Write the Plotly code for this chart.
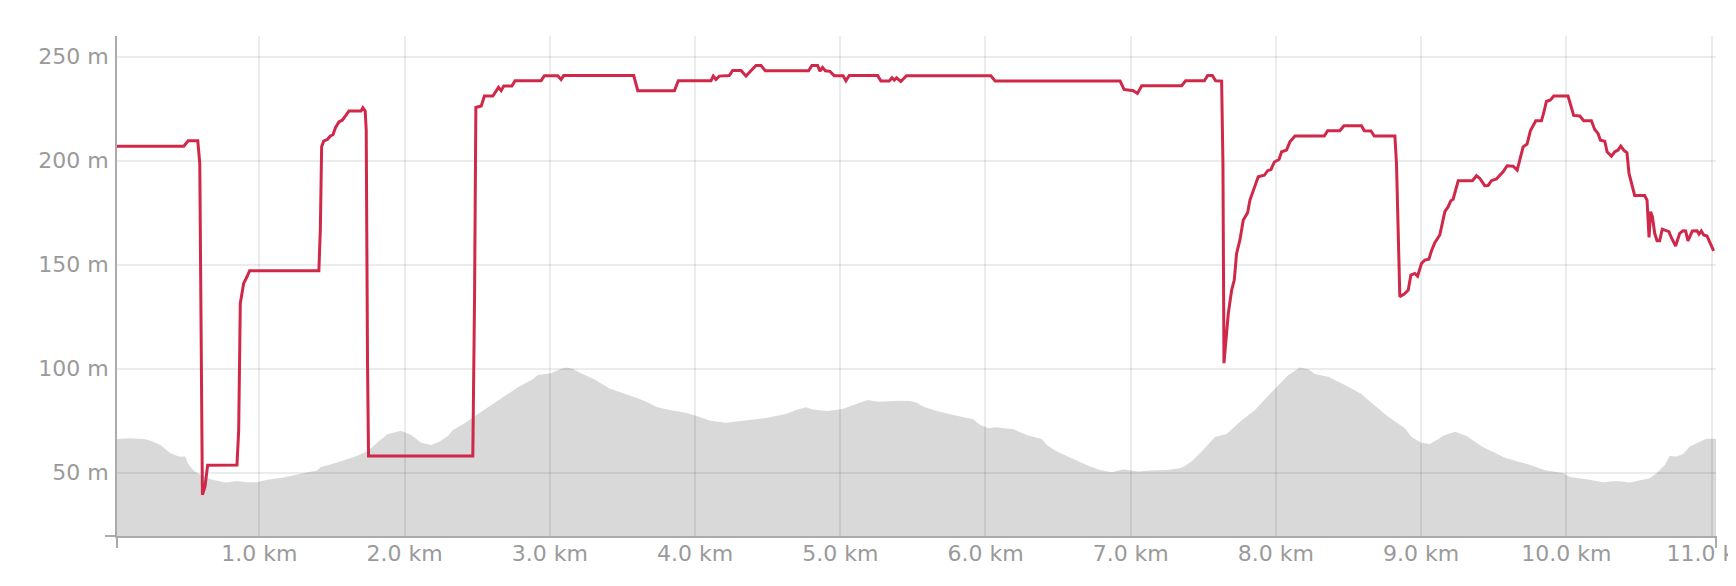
from plotly import graph_objects as go

# red track altitude (m) over distance (km)
track_km = [
    0.02, 0.48, 0.51, 0.576, 0.59, 0.608, 0.626, 0.644, 0.846, 0.858, 0.869, 0.881, 0.892, 0.915, 0.933,
    1.41, 1.42, 1.429, 1.443, 1.47, 1.489, 1.507, 1.525, 1.548, 1.571, 1.592, 1.617, 1.70, 1.713, 1.729,
    1.736, 1.745, 1.752, 2.47, 2.482, 2.491, 2.528, 2.55, 2.608, 2.647, 2.665, 2.683, 2.739, 2.761, 2.94,
    2.963, 3.055, 3.078, 3.096, 3.578, 3.606, 3.858, 3.885, 4.11, 4.126, 4.144, 4.167, 4.236, 4.259, 4.317,
    4.351, 4.385, 4.42, 4.454, 4.484, 4.782, 4.805, 4.844, 4.86, 4.878, 4.897, 4.929, 4.959, 5.02, 5.039,
    5.062, 5.257, 5.28, 5.337, 5.356, 5.372, 5.388, 5.417, 5.456, 6.037, 6.067, 6.927, 6.954, 7.018, 7.046,
    7.076, 7.351, 7.378, 7.507, 7.53, 7.562, 7.585, 7.626, 7.635, 7.642, 7.656, 7.672, 7.695, 7.713, 7.729,
    7.752, 7.775, 7.805, 7.821, 7.844, 7.878, 7.92, 7.943, 7.966, 7.989, 8.021, 8.039, 8.073, 8.096, 8.131,
    8.333, 8.356, 8.44, 8.468, 8.589, 8.608, 8.654, 8.677, 8.819, 8.83, 8.842, 8.853, 8.883, 8.911, 8.929,
    8.956, 8.975, 9.002, 9.025, 9.053, 9.071, 9.094, 9.128, 9.144, 9.163, 9.186, 9.204, 9.22, 9.255, 9.353,
    9.381, 9.404, 9.438, 9.461, 9.484, 9.518, 9.564, 9.592, 9.633, 9.661, 9.679, 9.702, 9.729, 9.752, 9.789,
    9.828, 9.844, 9.862, 9.89, 9.913, 10.011, 10.028, 10.05, 10.092, 10.119, 10.172, 10.195, 10.218, 10.234,
    10.264, 10.28, 10.31, 10.333, 10.356, 10.374, 10.395, 10.417, 10.431, 10.447, 10.47, 10.539, 10.555,
    10.569, 10.58, 10.592, 10.608, 10.624, 10.642, 10.66, 10.683, 10.706, 10.722, 10.752, 10.78, 10.803,
    10.821, 10.837, 10.867, 10.899, 10.913, 10.929, 10.945, 10.968, 10.986, 11.014,
]
track_alt = [
    207, 207, 209.6, 209.6, 198.7, 39.3, 43.3, 53.5, 53.7, 70.5, 131.4, 136.2, 141, 144.2, 147.1,
    147.1, 166.7, 206.7, 209.4, 210.3, 211.9, 212.5, 216, 218.7, 219.5, 221.5, 223.9, 223.9, 225.5, 223.9,
    214.7, 102.6, 58, 58, 134.6, 225.6, 226.3, 231.1, 231.1, 235.3, 233.7, 235.9, 235.9, 238.5, 238.5,
    240.9, 240.9, 239.1, 241, 241, 233.7, 233.7, 238.5, 238.5, 240.7, 239.1, 240.7, 241, 243.4, 243.4,
    240.7, 243.3, 245.8, 245.8, 243.3, 243.3, 245.8, 245.8, 243.1, 244.9, 243.3, 243, 240.9, 240.9, 238.5,
    241, 241, 238.3, 238.3, 239.9, 238.8, 239.9, 238.1, 240.9, 240.9, 238.3, 238.3, 234.3, 233.7, 232.4,
    236.1, 236.1, 238.5, 238.5, 241, 241, 238.5, 238.3, 198.7, 102.6, 115.4, 126.6, 137.8, 142.6, 155.4,
    161.9, 171.5, 175, 181.1, 185.6, 192.3, 193, 195.2, 195.8, 199.4, 200.6, 204.3, 205.1, 209.1, 211.9,
    211.9, 214.4, 214.4, 216.8, 216.8, 214.4, 214.3, 211.9, 211.9, 198.7, 158.7, 134.6, 135.9, 137.8, 145,
    145.8, 144.5, 150.6, 152.2, 152.6, 156.7, 160.6, 164.3, 169.1, 175.5, 177.9, 180.8, 181.5, 190.4, 190.4,
    192.8, 191.5, 188, 188.1, 190.4, 191.2, 194.7, 197.6, 197.4, 195.5, 201.1, 206.7, 208, 214.4, 219.2,
    219.2, 223.1, 228.5, 229.2, 231.1, 231.1, 226.8, 221.8, 221.5, 219.2, 219.2, 215, 213.1, 209.9,
    209.4, 204.3, 202.2, 204.3, 205.1, 207, 205.1, 203.8, 193.9, 189.9, 183.3, 183.3, 181.1,
    163.1, 175.5, 173.1, 165.1, 161.5, 161.5, 167.1, 166.3, 165.9, 163.1, 159, 165.1, 166.3,
    166.2, 161.5, 166.2, 166.3, 164.7, 166.2, 164.3, 163.8, 161, 156.7,
]

# grey terrain profile (m) over distance (km)
terrain_km = [
    0.0, 0.112, 0.204, 0.25, 0.319, 0.388, 0.445, 0.491, 0.507, 0.548, 0.594, 0.663, 0.766, 0.846, 0.915,
    0.984, 1.053, 1.167, 1.282, 1.397, 1.42, 1.534, 1.672, 1.752, 1.82, 1.885, 1.977, 2.046, 2.115, 2.183,
    2.241, 2.298, 2.333, 2.413, 2.505, 2.596, 2.677, 2.78, 2.883, 2.917, 3.009, 3.067, 3.112, 3.158, 3.204,
    3.307, 3.411, 3.514, 3.606, 3.68, 3.732, 3.823, 3.938, 4.007, 4.099, 4.213, 4.351, 4.489, 4.626, 4.695,
    4.764, 4.81, 4.913, 5.016, 5.108, 5.188, 5.268, 5.406, 5.475, 5.52, 5.573, 5.665, 5.78, 5.917, 5.963,
    6.021, 6.067, 6.193, 6.284, 6.388, 6.422, 6.491, 6.594, 6.697, 6.789, 6.869, 6.95, 7.053, 7.133, 7.248,
    7.339, 7.37, 7.42, 7.489, 7.58, 7.661, 7.752, 7.856, 7.924, 8.005, 8.085, 8.165, 8.222, 8.268, 8.36,
    8.475, 8.589, 8.635, 8.773, 8.888, 8.933, 9.002, 9.06, 9.163, 9.235, 9.312, 9.427, 9.553, 9.587, 9.725,
    9.862, 9.977, 10.023, 10.138, 10.252, 10.344, 10.436, 10.573, 10.619, 10.677, 10.711, 10.757, 10.803,
    10.849, 10.917, 10.963, 11.03,
]
terrain_alt = [
    66.1, 66.5, 66.2, 65.4, 63.3, 59.3, 57.7, 57.7, 54.5, 51, 48.9, 46.8, 45.2, 46, 45.4,
    45.4, 46.5, 47.6, 49.4, 51, 52.6, 54.8, 58, 60.6, 65, 68.6, 70.1, 68.1, 64.4, 63.3,
    64.9, 67.6, 70.5, 73.7, 78.2, 82.5, 86.5, 91, 94.9, 97, 97.8, 99.7, 100.5, 99.9, 98.1,
    94.9, 90.5, 88.1, 85.7, 83.6, 81.7, 80.1, 78.8, 77.4, 75, 74, 75, 76.3, 78.2, 80.1,
    81.4, 80.4, 79.6, 80.6, 83, 84.9, 84.1, 84.6, 84.4, 83.8, 81.7, 79.6, 77.7, 75.6, 72.9,
    71.3, 71.8, 70.8, 68.1, 66.1, 63.3, 60.1, 56.9, 53.7, 51.3, 50.2, 51.6, 50.5, 51, 51.3,
    52.1, 53.1, 55.4, 60.1, 67.1, 68.6, 74.5, 80.1, 85.3, 91.3, 97, 100.5, 99.7, 97.4, 96.1,
    92.1, 87.8, 84.9, 76.9, 71.3, 67.1, 64.4, 63.7, 68.1, 69.7, 67.6, 62.2, 58, 56.9, 54.2,
    51, 49.8, 47.9, 46.8, 45.4, 45.9, 45.2, 47.3, 49.7, 53.7, 58, 57.7, 59,
    62.5, 64.9, 66.3, 66.3,
]

y_ticks = [50, 100, 150, 200, 250]
x_ticks = [1, 2, 3, 4, 5, 6, 7, 8, 9, 10, 11]

AXIS_COLOR = "#ababab"
GRID_COLOR = 'rgba(0,0,0,0.075)'
LABEL_FONT = dict(family="DejaVu Sans", size=22, color="#9a9a9a")

terrain = go.Scatter(
    x=terrain_km,
    y=terrain_alt,
    mode='lines',
    fill='tozeroy',
    fillcolor='rgba(0,0,0,0.15)',
    line=dict(width=0, color='rgba(0,0,0,0)'),
    showlegend=False,
    hoverinfo='skip'
)

track = go.Scatter(
    x=track_km,
    y=track_alt,
    mode='lines',
    line=dict(color="#cf2849", width=3),
    showlegend=False,
    hoverinfo='skip'
)

# axis line stubs poking past the corners, plus the end tick on the right
stub = dict(type='line', line=dict(color=AXIS_COLOR, width=2), layer='above')
shapes = [
    dict(stub, xref='paper', yref='paper', xsizemode='pixel', xanchor=0, x0=-12, x1=0, y0=0, y1=0),
    dict(stub, xref='paper', yref='paper', ysizemode='pixel', yanchor=0, x0=0, x1=0, y0=-12, y1=0),
    dict(stub, xref='paper', yref='paper', ysizemode='pixel', yanchor=0, x0=1, x1=1, y0=-12, y1=0),
]

# the page body keeps its default 8px margin, so the figure is 16px smaller
layout = go.Layout(
    autosize=False,
    width=1728,
    height=578,
    margin=go.layout.Margin(l=109, r=20, t=28, b=50, pad=0),
    paper_bgcolor='white',
    plot_bgcolor='white',
    xaxis=dict(
        range=[0.02, 11.03],
        tickvals=x_ticks,
        ticktext=[f"{v:.1f} km" for v in x_ticks],
        showgrid=True,
        gridcolor=GRID_COLOR,
        gridwidth=2,
        zeroline=False,
        showline=True,
        linecolor=AXIS_COLOR,
        linewidth=2,
        ticks='',
        tickfont=LABEL_FONT,
        ticklabeloverflow='allow',
        ticklabelstandoff=-3,
        automargin=False,
    ),
    yaxis=dict(
        range=[19.5, 260],
        tickvals=y_ticks,
        ticktext=[f"{v} m" for v in y_ticks],
        showgrid=True,
        gridcolor=GRID_COLOR,
        gridwidth=2,
        zeroline=False,
        showline=True,
        linecolor=AXIS_COLOR,
        linewidth=2,
        ticks='',
        tickfont=LABEL_FONT,
        ticklabelstandoff=2,
        automargin=False,
    ),
    shapes=shapes,
)

fig = go.Figure([terrain, track], layout)
fig.write_html("out.html")
